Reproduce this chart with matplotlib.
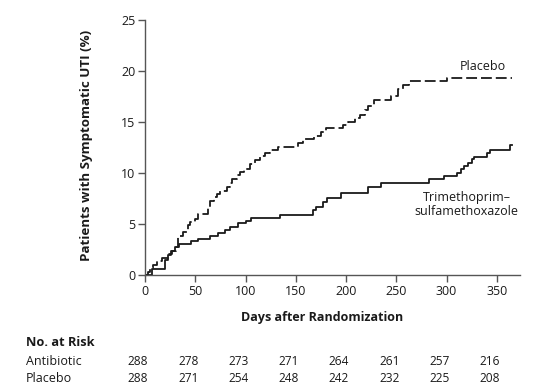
import matplotlib
matplotlib.use("Agg")
import matplotlib.pyplot as plt

# ---- data ----
placebo_days = [0, 3, 5, 8, 12, 17, 23, 27, 31, 33, 38, 43, 45, 50, 53, 63, 65, 69, 72, 75,
                82, 85, 87, 92, 94, 98, 104, 109, 114, 119, 124, 132, 152, 157, 168, 175,
                180, 197, 202, 209, 214, 219, 222, 228, 245, 252, 257, 263, 300, 365]
placebo_pct = [0, 0.35, 0.7, 1.0, 1.4, 1.7, 2.1, 2.4, 2.8, 3.8, 4.2, 4.9, 5.2, 5.5, 6.0, 6.7,
               7.3, 7.7, 8.0, 8.3, 8.6, 9.0, 9.4, 9.8, 10.15, 10.45, 10.9, 11.3, 11.65, 12.0,
               12.25, 12.55, 13.0, 13.35, 13.65, 14.05, 14.4, 14.7, 15.05, 15.4, 15.7, 16.2,
               16.6, 17.2, 17.6, 18.2, 18.6, 19.0, 19.3, 19.3]

antibiotic_days = [0, 7, 20, 23, 26, 30, 34, 46, 53, 65, 73, 80, 85, 93, 100, 105, 134, 167,
                   170, 177, 181, 195, 222, 235, 282, 297, 310, 314, 317, 321, 325, 327, 340,
                   343, 363, 365]
antibiotic_pct = [0, 0.65, 1.5, 2.0, 2.4, 2.75, 3.1, 3.35, 3.6, 3.85, 4.1, 4.4, 4.75, 5.1, 5.3,
                  5.58, 5.9, 6.4, 6.66, 7.2, 7.54, 8.03, 8.6, 9.05, 9.4, 9.73, 10.05, 10.4, 10.7,
                  11.03, 11.36, 11.6, 11.95, 12.27, 12.76, 12.76]

x_ticks = [0, 50, 100, 150, 200, 250, 300, 350]
y_ticks = [0, 5, 10, 15, 20, 25]
risk_antibiotic = [288, 278, 273, 271, 264, 261, 257, 216]
risk_placebo = [288, 271, 254, 248, 242, 232, 225, 208]

plt.rcParams['font.family'] = ['Open Sans', 'DejaVu Sans']
line_color = '#1a1a1a'
axis_color = '#555555'
text_color = '#1a1a1a'

fig = plt.figure(figsize=(5.34, 3.87), dpi=100)
ax = fig.add_axes([145/534, 1-275.3/387, 375/534, 255.3/387])

ax.step(placebo_days, placebo_pct, where='post', color=line_color, lw=1.3,
        linestyle=(0, (6, 2.2)))
ax.step(antibiotic_days, antibiotic_pct, where='post', color=line_color, lw=1.3)

ax.set_xlim(0, 373)
ax.set_ylim(0, 25)
ax.set_xticks(x_ticks)
ax.set_yticks(y_ticks)
for s in ['top', 'right']:
    ax.spines[s].set_visible(False)
for s in ['left', 'bottom']:
    ax.spines[s].set_color(axis_color)
    ax.spines[s].set_linewidth(1.0)
ax.tick_params(axis='both', colors=axis_color, length=5, width=1.0, labelsize=9,
               labelcolor=text_color, pad=2)
ax.spines['left'].set_bounds(0, 25)

ax.set_ylabel('Patients with Symptomatic UTI (%)', fontsize=9.6, fontweight='bold',
              color=text_color)
ax.yaxis.set_label_coords(-0.139, 0.51)

fig.text(322.5/534, 1-318/387, 'Days after Randomization', fontsize=9,
         fontweight='bold', ha='center', va='center', color=text_color)

ax.text(313, 20.4, 'Placebo', fontsize=9, ha='left', va='center', color=text_color)
ax.text(320, 6.9, 'Trimethoprim–\nsulfamethoxazole', fontsize=9, ha='center',
        va='center', color=text_color, linespacing=1.1)

fig.text(26/534, 1-343/387, 'No. at Risk', fontsize=9.2, fontweight='bold',
         ha='left', va='center', color=text_color)
fig.text(26/534, 1-361.5/387, 'Antibiotic', fontsize=9, ha='left', va='center',
         color=text_color)
fig.text(26/534, 1-379/387, 'Placebo', fontsize=9, ha='left', va='center',
         color=text_color)

fig_y_a = 1-361.5/387
fig_y_p = 1-379/387
for t, a, p in zip(x_ticks, risk_antibiotic, risk_placebo):
    xd = ax.transData.transform((t - 7, 0))[0]
    xf = fig.transFigure.inverted().transform((xd, 0))[0]
    fig.text(xf, fig_y_a, str(a), fontsize=8.6, ha='center', va='center', color=text_color)
    fig.text(xf, fig_y_p, str(p), fontsize=8.6, ha='center', va='center', color=text_color)

fig.savefig('out.png', dpi=100)
